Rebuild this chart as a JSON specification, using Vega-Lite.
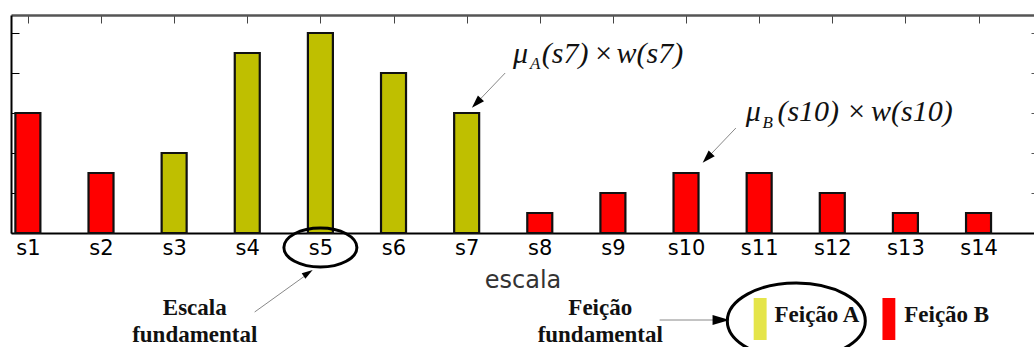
{
  "$schema": "https://vega.github.io/schema/vega-lite/v6.json",
  "width": 1023,
  "height": 218,
  "autosize": {"type": "none"},
  "padding": {"left": 11, "top": 15, "right": 0, "bottom": 114},
  "background": "white",
  "config": {"view": {"stroke": null}},
  "layer": [
    {
      "data": {"values": [
        {"escala": "s1", "i": 1, "valor": 3, "feicao": "B"},
        {"escala": "s2", "i": 2, "valor": 1.5, "feicao": "B"},
        {"escala": "s3", "i": 3, "valor": 2, "feicao": "A"},
        {"escala": "s4", "i": 4, "valor": 4.5, "feicao": "A"},
        {"escala": "s5", "i": 5, "valor": 5, "feicao": "A"},
        {"escala": "s6", "i": 6, "valor": 4, "feicao": "A"},
        {"escala": "s7", "i": 7, "valor": 3, "feicao": "A"},
        {"escala": "s8", "i": 8, "valor": 0.5, "feicao": "B"},
        {"escala": "s9", "i": 9, "valor": 1, "feicao": "B"},
        {"escala": "s10", "i": 10, "valor": 1.5, "feicao": "B"},
        {"escala": "s11", "i": 11, "valor": 1.5, "feicao": "B"},
        {"escala": "s12", "i": 12, "valor": 1, "feicao": "B"},
        {"escala": "s13", "i": 13, "valor": 0.5, "feicao": "B"},
        {"escala": "s14", "i": 14, "valor": 0.5, "feicao": "B"}
      ]},
      "mark": {"type": "bar", "size": 25, "stroke": "#111111", "strokeWidth": 2.2},
      "encoding": {
        "x": {"field": "i", "type": "quantitative",
          "scale": {"domain": [0.8375, 14.69], "nice": false, "zero": false},
          "axis": {"orient": "bottom", "values": [1,2,3,4,5,6,7,8,9,10,11,12,13,14],
            "labelExpr": "'s' + datum.value", "grid": false,
            "tickSize": -7, "tickColor": "black", "tickWidth": 1,
            "domainColor": "black", "domainWidth": 2,
            "labelFont": "DejaVu Sans", "labelFontSize": 21, "labelColor": "black",
            "labelPadding": 11, "labelFlush": false, "labelOverlap": false,
            "title": "escala", "titleFont": "DejaVu Sans", "titleFontSize": 24,
            "titleFontWeight": "normal", "titleColor": "#333333", "titlePadding": 10}},
        "y": {"field": "valor", "type": "quantitative", "stack": null,
          "scale": {"domain": [0, 5.45], "nice": false, "zero": false},
          "axis": {"orient": "left", "values": [0,1,2,3,4,5], "labels": false, "grid": false,
            "tickSize": -8, "tickColor": "black", "domainColor": "black", "domainWidth": 2, "title": null}},
        "color": {"field": "feicao", "type": "nominal",
          "scale": {"domain": ["A", "B"], "range": ["#bfbf00", "#ff0000"]}, "legend": null}
      }
    },
    {
      "data": {"values": [{"i": 10.925, "i2": 11.102, "v": -1.625, "v2": -2.675}]},
      "mark": {"type": "rect", "color": "#e5e54a"},
      "encoding": {
        "x": {"field": "i", "type": "quantitative",
          "scale": {"domain": [0.8375, 14.69], "nice": false, "zero": false},
          "axis": {"orient": "top", "values": [1,2,3,4,5,6,7,8,9,10,11,12,13,14], "labels": false,
            "grid": false, "tickSize": -8, "tickColor": "#444444", "domainColor": "#555555",
            "domainWidth": 2.5, "title": null}},
        "x2": {"field": "i2"},
        "y": {"field": "v", "type": "quantitative",
          "scale": {"domain": [0, 5.45], "nice": false, "zero": false},
          "axis": {"orient": "right", "values": [1,2,3,4,5], "labels": false, "grid": false,
            "tickSize": -3, "tickColor": "#555555", "domain": false, "title": null}},
        "y2": {"field": "v2"}
      }
    },
    {
      "data": {"values": [{"i": 12.686, "i2": 12.862, "v": -1.625, "v2": -2.675}]},
      "mark": {"type": "rect", "color": "#ff0000"},
      "encoding": {
        "x": {"field": "i", "type": "quantitative", "scale": {"domain": [0.8375, 14.69], "nice": false, "zero": false}, "axis": null},
        "x2": {"field": "i2"},
        "y": {"field": "v", "type": "quantitative", "scale": {"domain": [0, 5.45], "nice": false, "zero": false}, "axis": null},
        "y2": {"field": "v2"}
      }
    },
    {
      "data": {"values": [
        {"i": 4.101, "v": -1.975, "i2": 4.805, "v2": -1.05},
        {"i": 9.639, "v": -2.175, "i2": 10.384, "v2": -2.175},
        {"i": 7.527, "v": 4.0, "i2": 7.148, "v2": 3.275},
        {"i": 10.682, "v": 2.625, "i2": 10.303, "v2": 1.9}
      ]},
      "mark": {"type": "rule", "color": "#888888", "strokeWidth": 1},
      "encoding": {
        "x": {"field": "i", "type": "quantitative", "scale": {"domain": [0.8375, 14.69], "nice": false, "zero": false}, "axis": null},
        "x2": {"field": "i2"},
        "y": {"field": "v", "type": "quantitative", "scale": {"domain": [0, 5.45], "nice": false, "zero": false}, "axis": null},
        "y2": {"field": "v2"}
      }
    },
    {
      "data": {"values": [{"i": 5.0, "v": -0.3625}]},
      "mark": {"type": "point", "shape": "M -1 0 A 1 0.534 0 1 0 1 0 A 1 0.534 0 1 0 -1 0", "size": 5329,
        "filled": false, "color": "black", "strokeWidth": 3, "opacity": 1},
      "encoding": {
        "x": {"field": "i", "type": "quantitative", "scale": {"domain": [0.8375, 14.69], "nice": false, "zero": false}, "axis": null},
        "y": {"field": "v", "type": "quantitative", "scale": {"domain": [0, 5.45], "nice": false, "zero": false}, "axis": null}
      }
    },
    {
      "data": {"values": [{"i": 11.508, "v": -2.2}]},
      "mark": {"type": "point", "shape": "M -1 0 A 1 0.551 0 1 0 1 0 A 1 0.551 0 1 0 -1 0", "size": 19044,
        "filled": false, "color": "black", "strokeWidth": 3, "opacity": 1},
      "encoding": {
        "x": {"field": "i", "type": "quantitative", "scale": {"domain": [0.8375, 14.69], "nice": false, "zero": false}, "axis": null},
        "y": {"field": "v", "type": "quantitative", "scale": {"domain": [0, 5.45], "nice": false, "zero": false}, "axis": null}
      }
    },
    {
      "data": {"values": [{"i": 4.832, "v": -1.0}]},
      "mark": {"type": "point", "shape": "M 1 0 L -1 -0.6 L -1 0.6 Z", "size": 121, "angle": 326,
        "filled": true, "color": "black", "opacity": 1},
      "encoding": {
        "x": {"field": "i", "type": "quantitative", "scale": {"domain": [0.8375, 14.69], "nice": false, "zero": false}, "axis": null},
        "y": {"field": "v", "type": "quantitative", "scale": {"domain": [0, 5.45], "nice": false, "zero": false}, "axis": null}
      }
    },
    {
      "data": {"values": [{"i": 10.479, "v": -2.175}]},
      "mark": {"type": "point", "shape": "M 1 0 L -1 -0.6 L -1 0.6 Z", "size": 289, "angle": 0,
        "filled": true, "color": "black", "opacity": 1},
      "encoding": {
        "x": {"field": "i", "type": "quantitative", "scale": {"domain": [0.8375, 14.69], "nice": false, "zero": false}, "axis": null},
        "y": {"field": "v", "type": "quantitative", "scale": {"domain": [0, 5.45], "nice": false, "zero": false}, "axis": null}
      }
    },
    {
      "data": {"values": [{"i": 7.134, "v": 3.25}, {"i": 10.289, "v": 1.875}]},
      "mark": {"type": "point", "shape": "M 1 0 L -1 -0.65 L -1 0.65 Z", "size": 169, "angle": 134,
        "filled": true, "color": "black", "opacity": 1},
      "encoding": {
        "x": {"field": "i", "type": "quantitative", "scale": {"domain": [0.8375, 14.69], "nice": false, "zero": false}, "axis": null},
        "y": {"field": "v", "type": "quantitative", "scale": {"domain": [0, 5.45], "nice": false, "zero": false}, "axis": null}
      }
    },
    {
      "data": {"values": [
        {"t": "Escala", "i": 3.282, "v": -2.05},
        {"t": "fundamental", "i": 3.282, "v": -2.725},
        {"t": "Feição", "i": 8.827, "v": -2.05},
        {"t": "fundamental", "i": 8.827, "v": -2.725}
      ]},
      "mark": {"type": "text", "font": "Liberation Serif", "fontWeight": "bold", "fontSize": 23,
        "align": "center", "baseline": "alphabetic", "color": "#111111"},
      "encoding": {
        "x": {"field": "i", "type": "quantitative", "scale": {"domain": [0.8375, 14.69], "nice": false, "zero": false}, "axis": null},
        "y": {"field": "v", "type": "quantitative", "scale": {"domain": [0, 5.45], "nice": false, "zero": false}, "axis": null},
        "text": {"field": "t"}
      }
    },
    {
      "data": {"values": [
        {"t": "Feição A", "i": 11.21, "v": -2.225},
        {"t": "Feição B", "i": 12.984, "v": -2.225}
      ]},
      "mark": {"type": "text", "font": "Liberation Serif", "fontWeight": "bold", "fontSize": 23,
        "align": "left", "baseline": "alphabetic", "color": "#111111"},
      "encoding": {
        "x": {"field": "i", "type": "quantitative", "scale": {"domain": [0.8375, 14.69], "nice": false, "zero": false}, "axis": null},
        "y": {"field": "v", "type": "quantitative", "scale": {"domain": [0, 5.45], "nice": false, "zero": false}, "axis": null},
        "text": {"field": "t"}
      }
    },
    {
      "data": {"values": [
        {"t": "μ", "i": 7.635, "v": 4.25},
        {"t": "(s7)", "i": 8.028, "v": 4.25},
        {"t": "×", "i": 8.73, "v": 4.25},
        {"t": "w(s7)", "i": 9.05, "v": 4.25},
        {"t": "μ", "i": 10.817, "v": 2.8},
        {"t": "(s10)", "i": 11.25, "v": 2.8},
        {"t": "×", "i": 12.19, "v": 2.8},
        {"t": "w(s10)", "i": 12.53, "v": 2.8}
      ]},
      "mark": {"type": "text", "font": "Liberation Serif", "fontStyle": "italic", "fontSize": 30,
        "align": "left", "baseline": "alphabetic", "color": "#111111"},
      "encoding": {
        "x": {"field": "i", "type": "quantitative", "scale": {"domain": [0.8375, 14.69], "nice": false, "zero": false}, "axis": null},
        "y": {"field": "v", "type": "quantitative", "scale": {"domain": [0, 5.45], "nice": false, "zero": false}, "axis": null},
        "text": {"field": "t"}
      }
    },
    {
      "data": {"values": [
        {"t": "A", "i": 7.866, "v": 4.1},
        {"t": "B", "i": 11.047, "v": 2.625}
      ]},
      "mark": {"type": "text", "font": "Liberation Serif", "fontStyle": "italic", "fontSize": 17,
        "align": "left", "baseline": "alphabetic", "color": "#111111"},
      "encoding": {
        "x": {"field": "i", "type": "quantitative", "scale": {"domain": [0.8375, 14.69], "nice": false, "zero": false}, "axis": null},
        "y": {"field": "v", "type": "quantitative", "scale": {"domain": [0, 5.45], "nice": false, "zero": false}, "axis": null},
        "text": {"field": "t"}
      }
    }
  ]
}
